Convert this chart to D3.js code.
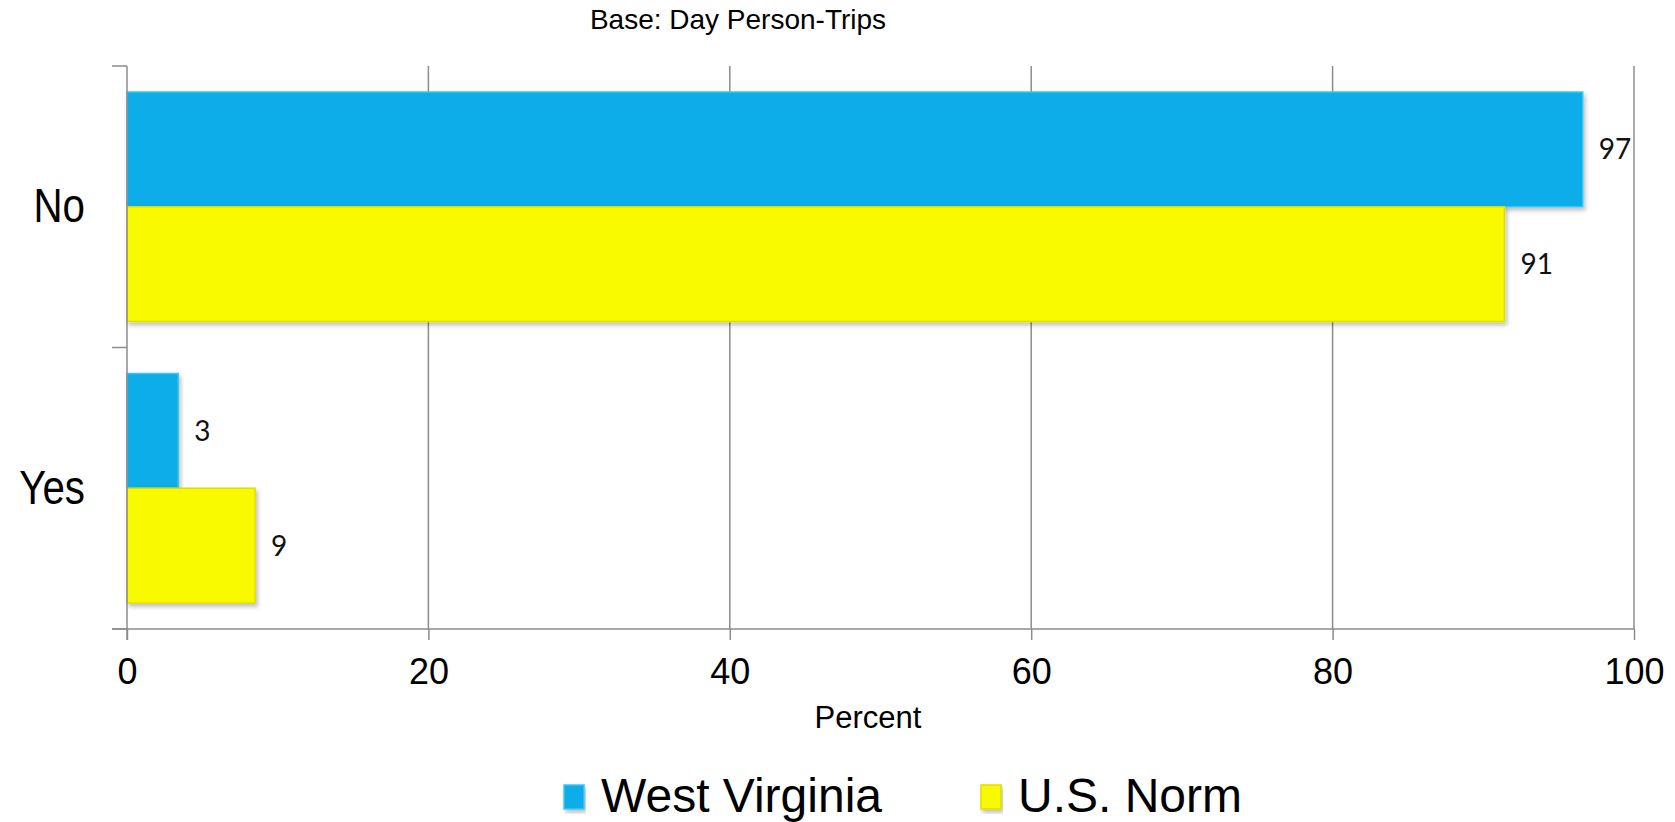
<!DOCTYPE html>
<html>
<head>
<meta charset="utf-8">
<script src="https://cdn.jsdelivr.net/npm/d3@7"></script>
<style>
  body { margin: 0; background: #fff; }
  svg { display: block; font-family: "Liberation Sans", Arial, sans-serif; }
</style>
</head>
<body>
<div id="container"></div>
<script>
const categories = ["No", "Yes"];
const series = ["West Virginia", "U.S. Norm"];
const westVirginia = [96.6, 3.4];
const usNorm = [91.4, 8.5];
const xTicks = [0, 20, 40, 60, 80, 100];

const width = 1675;
const height = 822;
const marginTop = 66;
const marginBottom = 193;
const marginLeft = 127;
const marginRight = 41;

const colors = { "West Virginia": "#0aade9", "U.S. Norm": "#f9f906" };
const edges = { "West Virginia": "#3cc6f4", "U.S. Norm": "#dede00" };

const rows = categories.map((c, i) => ({
  category: c,
  values: [
    { series: series[0], value: westVirginia[i] },
    { series: series[1], value: usNorm[i] }
  ]
}));

const svg = d3.select("#container")
  .append("svg")
  .attr("width", width)
  .attr("height", height);

const defs = svg.append("defs");
const shadow = defs.append("filter")
  .attr("id", "shadow")
  .attr("x", "-5%").attr("y", "-10%")
  .attr("width", "115%").attr("height", "130%");
shadow.append("feDropShadow")
  .attr("dx", 2).attr("dy", 3)
  .attr("stdDeviation", 2)
  .attr("flood-color", "#000")
  .attr("flood-opacity", 0.25);

const x = d3.scaleLinear()
  .domain([0, 100])
  .range([marginLeft, width - marginRight]);

const y = d3.scaleBand()
  .domain(categories)
  .range([marginTop, height - marginBottom]);

const ySub = d3.scaleBand()
  .domain(series)
  .range([26, y.bandwidth() - 26]);

const plotBottom = height - marginBottom;

// vertical gridlines
svg.append("g")
  .selectAll("line")
  .data(xTicks.slice(1))
  .join("line")
  .attr("x1", d => x(d))
  .attr("x2", d => x(d))
  .attr("y1", marginTop)
  .attr("y2", plotBottom)
  .attr("stroke", "#8c8c8c")
  .attr("stroke-width", 1.5);

// bars
const groups = svg.append("g")
  .selectAll("g")
  .data(rows)
  .join("g")
  .attr("transform", d => `translate(0,${y(d.category)})`);

groups.selectAll("rect")
  .data(d => d.values)
  .join("rect")
  .attr("x", x(0))
  .attr("y", d => ySub(d.series))
  .attr("width", d => x(d.value) - x(0))
  .attr("height", ySub.bandwidth())
  .attr("fill", d => colors[d.series])
  .attr("stroke", d => edges[d.series])
  .attr("stroke-width", 1.5)
  .attr("filter", "url(#shadow)");

groups.selectAll("text")
  .data(d => d.values)
  .join("text")
  .attr("x", d => x(d.value) + 16)
  .attr("y", d => ySub(d.series) + ySub.bandwidth() / 2)
  .attr("dy", "0.36em")
  .attr("font-family", "Lato, 'Noto Sans', sans-serif")
  .attr("font-size", 28)
  .attr("fill", "#111")
  .text(d => Math.round(d.value));

// x axis
const xAxis = svg.append("g")
  .attr("transform", `translate(0,${plotBottom})`)
  .call(d3.axisBottom(x).tickValues(xTicks).tickSize(11).tickPadding(18).tickSizeOuter(0));
xAxis.select(".domain").attr("stroke", "#8c8c8c").attr("stroke-width", 1.5)
  .attr("d", `M${marginLeft - 15},0H${x(100)}`);
xAxis.selectAll(".tick line").attr("stroke", "#8c8c8c").attr("stroke-width", 1.5);
xAxis.selectAll(".tick text")
  .attr("font-size", 36)
  .attr("font-family", "'Liberation Sans', Arial, sans-serif")
  .attr("fill", "#000");

// y axis
const yAxis = svg.append("g");
yAxis.append("line")
  .attr("x1", x(0)).attr("x2", x(0))
  .attr("y1", marginTop).attr("y2", plotBottom + 11)
  .attr("stroke", "#8c8c8c").attr("stroke-width", 1.5);
yAxis.selectAll(".ytick")
  .data(categories.map(c => y(c)).concat([plotBottom]))
  .join("line")
  .attr("class", "ytick")
  .attr("x1", x(0) - 15).attr("x2", x(0))
  .attr("y1", d => d).attr("y2", d => d)
  .attr("stroke", "#8c8c8c").attr("stroke-width", 1.5);

yAxis.selectAll(".ylabel")
  .data(categories)
  .join("text")
  .attr("class", "ylabel")
  .attr("transform", d => `translate(85,${y(d) + y.bandwidth() / 2 - 2}) scale(0.84,1)`)
  .attr("text-anchor", "end")
  .attr("dy", "0.36em")
  .attr("font-size", 48)
  .attr("fill", "#000")
  .text(d => d);

// titles
svg.append("text")
  .attr("x", 738)
  .attr("y", 29)
  .attr("text-anchor", "middle")
  .attr("font-size", 28)
  .attr("fill", "#000")
  .text("Base: Day Person-Trips");

svg.append("text")
  .attr("x", 868)
  .attr("y", 728)
  .attr("text-anchor", "middle")
  .attr("font-size", 31)
  .attr("fill", "#000")
  .text("Percent");

// legend
const legendX = [564, 981];
const legend = svg.append("g")
  .selectAll("g")
  .data(series)
  .join("g")
  .attr("transform", (d, i) => `translate(${legendX[i]},785)`);

legend.append("rect")
  .attr("width", 20)
  .attr("height", 24)
  .attr("fill", d => colors[d])
  .attr("stroke", d => edges[d])
  .attr("stroke-width", 1.5)
  .attr("filter", "url(#shadow)");

legend.append("text")
  .attr("x", 37)
  .attr("y", 27)
  .attr("font-size", 48)
  .attr("fill", "#000")
  .text(d => d);
</script>
</body>
</html>
